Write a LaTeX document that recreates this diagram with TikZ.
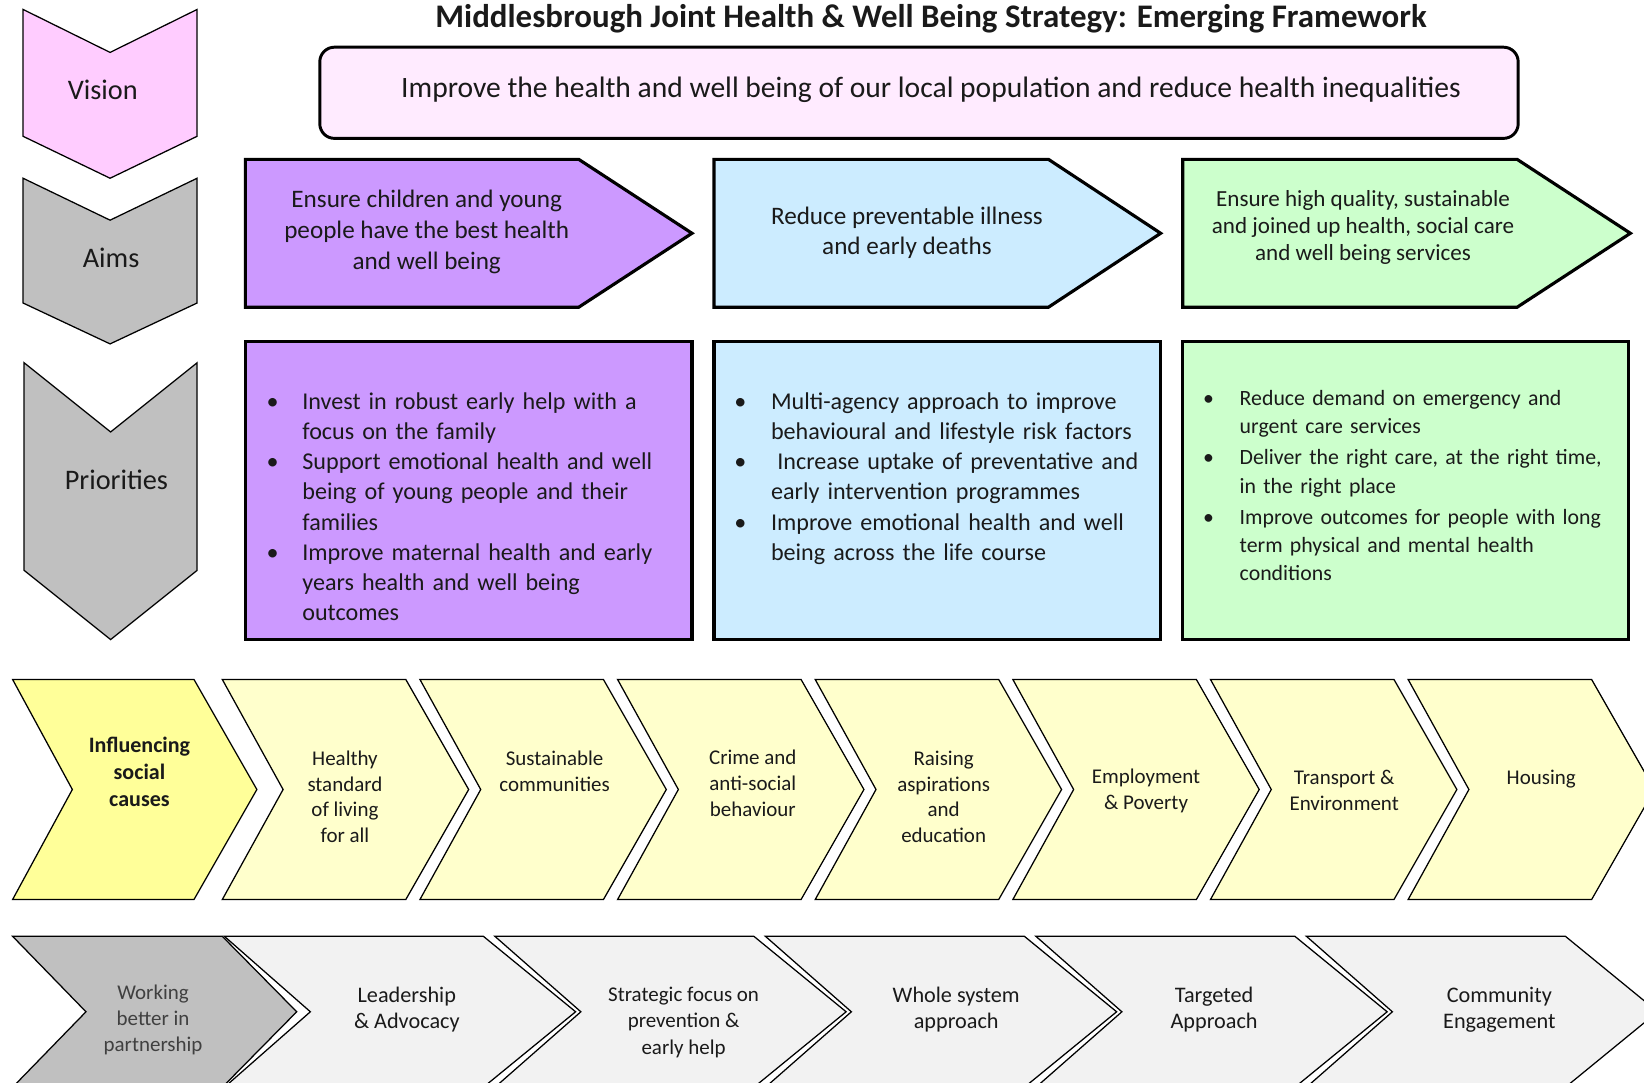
\documentclass[tikz,border=0pt]{standalone}
\usepackage{fontspec}
\setmainfont{Carlito}
\definecolor{visionpink}{HTML}{FFCCFF}
\definecolor{chevgrey}{HTML}{C0C0C0}
\definecolor{visionbox}{HTML}{FFEBFF}
\definecolor{purp}{HTML}{CC99FF}
\definecolor{lblue}{HTML}{CCECFF}
\definecolor{lgreen}{HTML}{CCFFCC}
\definecolor{yel}{HTML}{FFFF99}
\definecolor{lyel}{HTML}{FFFFCC}
\definecolor{lgrey}{HTML}{F2F2F2}
\definecolor{txt}{HTML}{1A1A1A}
\definecolor{greytxt}{HTML}{404040}
% horizontal chevron: [style] L, Rtop, Point, Notch, top, bottom
\newcommand\hchev[7][]{\draw[#1] (#2,#6) -- (#3,#6) -- (#4,{(#6+#7)/2}) -- (#3,#7) -- (#2,#7) -- (#5,{(#6+#7)/2}) -- cycle;}
% vertical chevron: [style] xl, xr, top, notch, bot, point
\newcommand\vchev[7][]{\draw[#1] (#2,#4) -- ({(#2+#3)/2},#5) -- (#3,#4) -- (#3,#6) -- ({(#2+#3)/2},#7) -- (#2,#6) -- cycle;}
% pentagon arrow box: [style] x0, x1, xp, top, bot
\newcommand\pent[6][]{\draw[#1] (#2,#5) -- (#3,#5) -- (#4,{(#5+#6)/2}) -- (#3,#6) -- (#2,#6) -- cycle;}
% bullet item start: hanging indent width
\newcommand\bitem[1]{\hangindent=#1\hangafter=1\noindent\makebox[#1][l]{•}}
\begin{document}
\begin{tikzpicture}[x=0.5pt,y=-0.5pt,
  lbl/.style={inner sep=0pt, align=center, text=txt},
  thinln/.style={draw=black, line width=0.6pt},
  thickln/.style={draw=black, line width=1.5pt},
  plist/.style={anchor=north west, inner sep=0pt, text width=#1, align=left, text=txt},
  chevtxt/.style={lbl, font=\fontsize{10}{12.3}\selectfont},
  bottxt/.style={lbl, font=\fontsize{10.6}{12.5}\selectfont},
]
\useasboundingbox (0,0) rectangle (1568,1032);
\clip (0,0) rectangle (1568,1032);
\fill[white] (0,0) rectangle (1568,1032);

% title
\node[lbl, font=\fontsize{15.7}{18}\bfseries] (title) at (888,18) {Middlesbrough Joint Health \& Well Being Strategy: Emerging Framework};

% left column chevrons
\vchev[thinln, fill=visionpink]{22}{188}{9}{50}{130}{170}
\node[lbl, font=\fontsize{13.5}{16}\selectfont] (vision) at (98,86) {Vision};
\vchev[thinln, fill=chevgrey]{22}{188}{170}{210}{289}{328}
\node[lbl, font=\fontsize{13.5}{16}\selectfont] (aims) at (106,246) {Aims};
\vchev[thinln, fill=chevgrey]{23}{188}{346}{412}{544}{610}
\node[lbl, font=\fontsize{13.5}{16}\selectfont] (prio) at (111,458) {Priorities};

% vision box
\draw[fill=visionbox, line width=1.4pt, rounded corners=7pt] (305,45) rectangle (1448,132);
\node[lbl, font=\fontsize{14.1}{16}\selectfont] (visiontxt) at (888,86) {Improve the health and well being of our local population and reduce health inequalities};

% aims
\pent[thickln, fill=purp]{234}{552}{660}{152}{293}
\node[lbl, font=\fontsize{12}{14.8}\selectfont] (aim1) at (407,221) {Ensure children and young\\people have the best health\\and well being};
\pent[thickln, fill=lblue]{681}{1000}{1107}{152}{293}
\node[lbl, font=\fontsize{12}{14}\selectfont] (aim2) at (865,222) {Reduce preventable illness\\and early deaths};
\pent[thickln, fill=lgreen]{1128}{1447}{1555}{152}{293}
\node[lbl, font=\fontsize{11}{13}\selectfont] (aim3) at (1300,217) {Ensure high quality, sustainable\\and joined up health, social care\\and well being services};

% priorities
\draw[thickln, fill=purp] (234,326) rectangle (660,610);
\node[plist=205pt, font=\fontsize{11.5}{14.4}\selectfont] (pr1) at (254,374) {%
\bitem{17pt}Invest in robust early help with a\newline focus on the family\par
\bitem{17pt}Support emotional health and well\newline being of young people and their\newline families\par
\bitem{17pt}Improve maternal health and early\newline years health and well being\newline outcomes\par};
\draw[thickln, fill=lblue] (681,326) rectangle (1107,610);
\node[plist=205pt, font=\fontsize{11.5}{14.4}\selectfont] (pr2) at (700,374) {%
\bitem{17.5pt}Multi-agency approach to improve\newline behavioural and lifestyle risk factors\par
\bitem{17.5pt}\hspace{3pt}Increase uptake of preventative and\newline early intervention programmes\par
\bitem{17.5pt}Improve emotional health and well\newline being across the life course\par};
\draw[thickln, fill=lgreen] (1128,326) rectangle (1553,610);
\node[plist=205pt, font=\fontsize{10.4}{13.4}\selectfont] (pr3) at (1147,372) {%
\bitem{17.5pt}Reduce demand on emergency and\newline urgent care services\par\vspace{1.5pt}
\bitem{17.5pt}Deliver the right care, at the right time,\newline in the right place\par\vspace{1.5pt}
\bitem{17.5pt}Improve outcomes for people with long\newline term physical and mental health\newline conditions\par};

% influencing row
\hchev[thinln, fill=yel]{12}{185}{245}{69}{648}{858}
\node[lbl, font=\fontsize{10.5}{13}\bfseries] (c0) at (133,736) {Influencing\\social\\causes};
\hchev[thinln, fill=lyel]{212}{387}{447}{270}{648}{858}
\node[chevtxt] (c1) at (329,760) {Healthy\\standard\\of living\\for all};
\hchev[thinln, fill=lyel]{400.5}{575.5}{635.5}{458.5}{648}{858}
\node[chevtxt] (c2) at (529,736) {Sustainable\\communities};
\hchev[thinln, fill=lyel]{589}{764}{824}{647}{648}{858}
\node[chevtxt] (c3) at (718,747) {Crime and\\anti-social\\behaviour};
\hchev[thinln, fill=lyel]{777.5}{952.5}{1012.5}{835.5}{648}{858}
\node[chevtxt] (c4) at (900,760) {Raising\\aspirations\\and\\education};
\hchev[thinln, fill=lyel]{966}{1141}{1201}{1024}{648}{858}
\node[chevtxt] (c5) at (1093,754) {Employment\\\& Poverty};
\hchev[thinln, fill=lyel]{1154.5}{1329.5}{1389.5}{1212.5}{648}{858}
\node[chevtxt] (c6) at (1282,754) {Transport \&\\Environment};
\hchev[thinln, fill=lyel]{1343}{1518}{1578}{1401}{648}{858}
\node[chevtxt] (c7) at (1470,743) {Housing};

% partnership row
\hchev[thinln, fill=chevgrey]{12}{212}{283}{82}{893}{1037}
\node[bottxt, text=greytxt, font=\fontsize{10}{12.5}\selectfont] (b0) at (146,973) {Working\\better in\\partnership};
\hchev[thinln, fill=lgrey]{214}{461}{549}{296}{893}{1037}
\node[bottxt] (b1) at (388,963) {Leadership\\\& Advocacy};
\hchev[thinln, fill=lgrey]{472}{719}{807}{554}{893}{1037}
\node[bottxt, font=\fontsize{10}{12.5}\selectfont] (b2) at (652,975) {Strategic focus on\\prevention \&\\early help};
\hchev[thinln, fill=lgrey]{730}{977}{1065}{812}{893}{1037}
\node[bottxt] (b3) at (912,963) {Whole system\\approach};
\hchev[thinln, fill=lgrey]{988}{1235}{1323}{1070}{893}{1037}
\node[bottxt] (b4) at (1158,963) {Targeted\\Approach};
\hchev[thinln, fill=lgrey]{1246}{1493}{1581}{1328}{893}{1037}
\node[bottxt] (b5) at (1430,963) {Community\\Engagement};
\end{tikzpicture}
\end{document}
